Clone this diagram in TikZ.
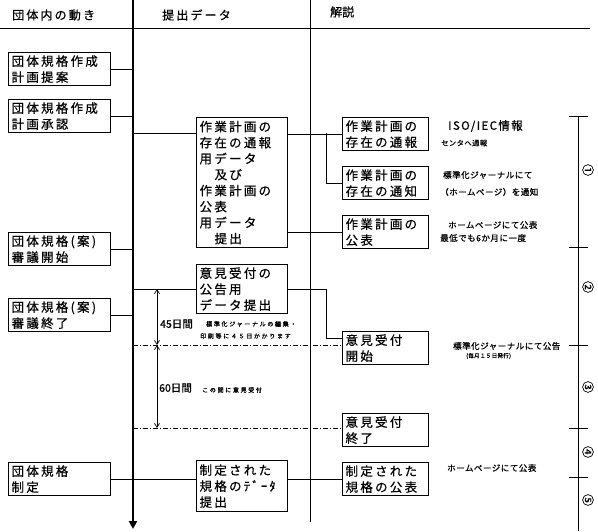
\documentclass[tikz,border=0pt]{standalone}
\usepackage{fontspec}
\setmainfont{Noto Sans CJK JP}
\newfontfamily\boxjp[LetterSpace=18,FakeBold=0.6]{Noto Sans CJK JP}
\newfontfamily\notejp[LetterSpace=6,FakeBold=0.8]{Noto Sans CJK JP}
\newfontfamily\spacedjp[LetterSpace=28,FakeBold=0.8]{Noto Sans CJK JP}
\newfontfamily\plainbold[FakeBold=0.8]{Noto Sans CJK JP}
\newfontfamily\isojp[LetterSpace=12,FakeBold=0.6]{Noto Sans CJK JP}
\usetikzlibrary{arrows.meta}
\begin{document}
\begin{tikzpicture}[x=1pt,y=-1pt,
 bx/.style={draw, line width=1.2pt, anchor=north west, inner xsep=3pt, inner ysep=1pt, align=left, font=\boxjp\fontsize{12.5}{16}\selectfont},
 lbox/.style={bx, text width=96pt, minimum height=33pt},
 mbox/.style={bx, text width=85pt},
 rbox/.style={bx, text width=80pt, minimum height=33pt},
 conn/.style={line width=0.8pt},
 dd/.style={line width=0.8pt, dash pattern=on 5pt off 2pt on 1pt off 2pt},
 note/.style={anchor=west, inner sep=0pt, font=\notejp\fontsize{8.5}{10}\selectfont},
 tinynote/.style={anchor=west, inner sep=0pt, font=\notejp\fontsize{5.5}{6}\selectfont},
 spnote/.style={anchor=west, inner sep=0pt, font=\spacedjp\fontsize{6}{7}\selectfont},
 dimlab/.style={anchor=west, inner sep=0pt, font=\plainbold\fontsize{10.5}{12}\selectfont},
 hdr/.style={anchor=west, inner sep=0pt, font=\boxjp\fontsize{12}{14}\selectfont},
 tickln/.style={line width=0.9pt},
 circnum/.style={inner sep=0pt, rotate=-90, font=\plainbold\fontsize{12}{13}\selectfont},
 dimarr/.style={line width=0.7pt, {Straight Barb[length=4pt,width=5pt]}-{Straight Barb[length=4pt,width=5pt]}}
]
\useasboundingbox (0,0) rectangle (598,531);
% headers
\node[hdr] (h1) at (12,15) {団体内の動き};
\node[hdr] (h2) at (162,15) {提出データ};
\node[anchor=west, inner sep=0pt, font=\plainbold\fontsize{12}{14}\selectfont] (h3) at (330,12) {解説};
% frame lines
\coordinate (sTop) at (133,0); \coordinate (sBot) at (133,529);
\draw[line width=2.2pt, -{Triangle[length=8pt,width=8pt]}] (sTop) -- (sBot);
\coordinate (vTop) at (310,0); \coordinate (vBot) at (310,522);
\draw[line width=1pt] (vTop) -- (vBot);
\coordinate (hL) at (0,28); \coordinate (hR) at (590,28);
\draw[line width=1pt] (hL) -- (hR);
% left boxes
\node[lbox] (l1) at (8,52) {団体規格作成\\計画提案};
\node[lbox] (l2) at (8,99) {団体規格作成\\計画承認};
\node[lbox] (l3) at (8,232) {団体規格(案)\\審議開始};
\node[lbox] (l4) at (8,298) {団体規格(案)\\審議終了};
\node[lbox] (l5) at (8,462) {団体規格\\制定};
\foreach \n in {l1,l2,l3,l4} \draw[conn] (\n.east) -- (\n.east -| sTop);
% middle boxes
\node[mbox, minimum height=130pt] (mA) at (196,117) {作業計画の\\存在の通報\\用データ\\\hspace*{15pt}及び\\作業計画の\\公表\\用データ\\\hspace*{15pt}提出};
\node[mbox, minimum height=49pt] (mB) at (196,264) {意見受付の\\公告用\\データ提出};
\node[mbox, minimum height=51pt] (mC) at (196,460) {制定された\\規格のﾃﾞｰﾀ\\提出};
% right boxes
\node[rbox] (r1) at (342,117) {作業計画の\\存在の通報};
\node[rbox] (r2) at (342,166) {作業計画の\\存在の通知};
\node[rbox] (r3) at (342,215) {作業計画の\\公表};
\node[rbox] (r4) at (342,331) {意見受付\\開始};
\node[rbox] (r5) at (342,413) {意見受付\\終了};
\node[rbox] (r6) at (342,462) {制定された\\規格の公表};
% connectors
\coordinate (tA) at (133,133);
\draw[conn] (tA) -- (tA -| mA.west);
\draw[conn] (mA.east |- r1.west) -- (r1.west);
\coordinate (jA) at (326,133);
\draw[conn] (jA) |- (r2.west);
\draw[conn] (mA.east |- r3.west) -- (r3.west);
\coordinate (tB) at (133,289);
\draw[conn] (tB) -- (tB -| mB.west);
\coordinate (jB) at (326,338);
\draw[conn] (mB.east |- tB) -| (jB) -- (jB -| r4.west);
\draw[conn] (l5.east) -- (l5.east -| mC.west);
\draw[conn] (mC.east |- l5.east) -- (r6.west);
% dash-dot lines
\coordinate (d1) at (133,345); \draw[dd] (d1) -- (d1 -| r4.west);
\coordinate (d2) at (133,428); \draw[dd] (d2) -- (d2 -| r5.west);
% dimension
\coordinate (k1) at (157,289); \coordinate (k2) at (157,345); \coordinate (k3) at (157,428);
\draw[dimarr] (k1) -- (k2);
\draw[dimarr] (k2) -- (k3);
\node[dimlab] (n45) at (160,324) {45日間};
\node[spnote] (s1) at (206,324) {標準化ジャーナルの編集・};
\node[spnote] (s2) at (200,336) {印刷等に４５日かかります};
\node[dimlab] (n60) at (159,388) {60日間};
\node[spnote] (s3) at (202,390) {この間に意見受付};
% notes
\node[anchor=west, inner sep=0pt, font=\isojp\fontsize{11.5}{12}\selectfont] (e1) at (448,126) {ISO/IEC情報};
\node[note, font=\notejp\fontsize{7.3}{8}\selectfont] (e2) at (441,143) {センタへ通報};
\node[note] (e3) at (443,175) {標準化ジャーナルにて};
\node[note] (e4) at (440,192) {（ホームページ）を通知};
\node[note] (e5) at (448,225) {ホームページにて公表};
\node[note] (e6) at (440,238) {最低でも6か月に一度};
\node[note] (e7) at (453,346) {標準化ジャーナルにて公告};
\node[tinynote] (e8) at (466,356) {(毎月１５日発行)};
\node[note] (e9) at (447,468) {ホームページにて公表};
% ruler
\coordinate (rT) at (578,116); \coordinate (rB) at (578,531);
\draw[line width=0.9pt] (rT) -- (rB);
\foreach \yy in {116,247,345,428,477} \draw[tickln] (569,\yy) -- (588,\yy);
\node[circnum] (c1) at (588,170) {①};
\node[circnum] (c2) at (588,287) {②};
\node[circnum] (c3) at (588,387) {③};
\node[circnum] (c4) at (588,452) {④};
\node[circnum] (c5) at (588,500) {⑤};
\end{tikzpicture}
\end{document}
